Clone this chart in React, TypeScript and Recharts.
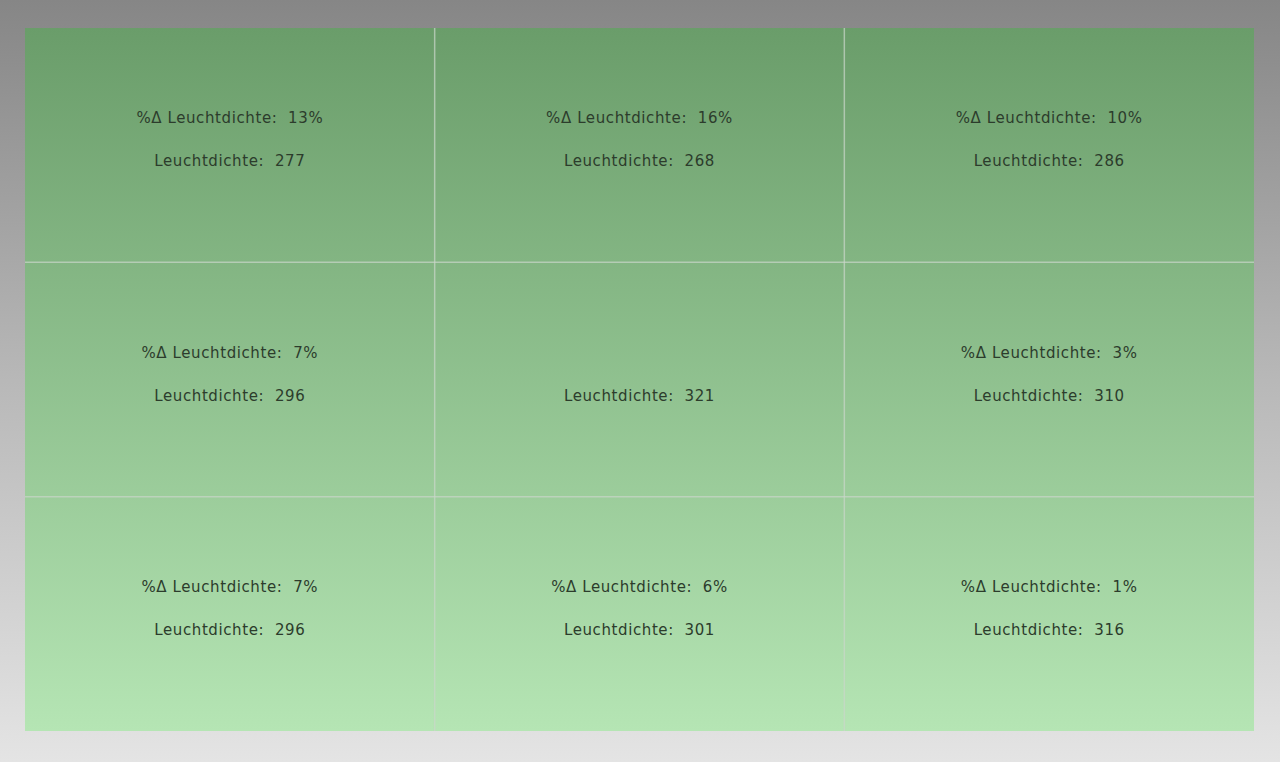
import { ScatterChart, Scatter, XAxis, YAxis, CartesianGrid, ReferenceLine } from 'recharts';

// 3x3 grid, rows top to bottom, columns left to right
const columns = [0.5, 1.5, 2.5];
const rows = [2.5, 1.5, 0.5];
const deltaPercent: (number | null)[] = [13, 16, 10, 7, null, 3, 7, 6, 1];
const luminance = [277, 268, 286, 296, 321, 310, 296, 301, 316];
const gridBreaks = [1, 2];

const cells = luminance.map((lum, i) => ({
  x: columns[i % 3],
  y: rows[Math.floor(i / 3)],
  lum,
  delta: deltaPercent[i],
}));

const textStyle = {
  fontFamily: '"DejaVu Sans", sans-serif',
  fontSize: 15,
  letterSpacing: 0.6,
  fill: '#2c3c2c',
  whiteSpace: 'pre' as const,
};

const CellLabel = (props: any) => {
  const { cx, cy, payload } = props;
  if (payload.delta === null) {
    return (
      <text x={cx} y={cy + 16} textAnchor="middle" dominantBaseline="central" style={textStyle}>
        {`Leuchtdichte:  ${payload.lum}`}
      </text>
    );
  }
  return (
    <g>
      <text x={cx} y={cy - 27} textAnchor="middle" dominantBaseline="central" style={textStyle}>
        {`%Δ Leuchtdichte:  ${payload.delta}%`}
      </text>
      <text x={cx} y={cy + 16} textAnchor="middle" dominantBaseline="central" style={textStyle}>
        {`Leuchtdichte:  ${payload.lum}`}
      </text>
    </g>
  );
};

export default function App() {
  return (
    <div
      style={{
        position: 'fixed',
        left: 0,
        top: 0,
        width: 1280,
        height: 762,
        background: 'linear-gradient(to bottom, #868686 0%, #b8b8b8 50%, #e4e4e4 100%)',
      }}
    >
      <ScatterChart width={1280} height={762} margin={{ top: 28, right: 26, bottom: 31, left: 25 }}>
        <defs>
          <linearGradient id="cellGreen" x1="0" y1="0" x2="0" y2="1">
            <stop offset="0%" stopColor="#6a9d6a" />
            <stop offset="100%" stopColor="#b5e5b4" />
          </linearGradient>
        </defs>
        <CartesianGrid fill="url(#cellGreen)" fillOpacity={1} horizontal={false} vertical={false} />
        <XAxis
          type="number"
          dataKey="x"
          domain={[0, 3]}
          height={0}
          tick={false}
          axisLine={false}
          tickLine={false}
        />
        <YAxis
          type="number"
          dataKey="y"
          domain={[0, 3]}
          width={0}
          tick={false}
          axisLine={false}
          tickLine={false}
        />
        {gridBreaks.map((v) => (
          <ReferenceLine key={`x${v}`} x={v} stroke="#cbd6cb" strokeOpacity={0.7} strokeWidth={1.5} />
        ))}
        {gridBreaks.map((v) => (
          <ReferenceLine key={`y${v}`} y={v} stroke="#cbd6cb" strokeOpacity={0.7} strokeWidth={1.5} />
        ))}
        <Scatter data={cells} shape={CellLabel} isAnimationActive={false} />
      </ScatterChart>
    </div>
  );
}
